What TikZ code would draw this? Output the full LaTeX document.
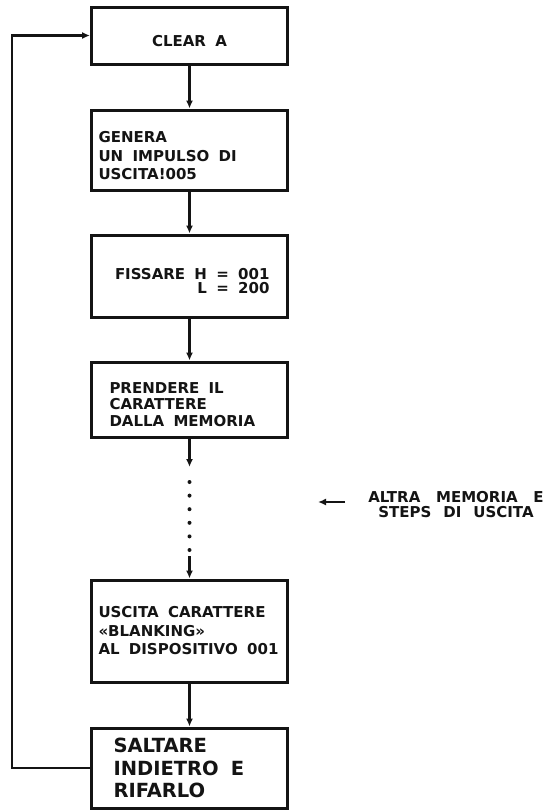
\documentclass[tikz,border=0pt]{standalone}
\usepackage{fontspec}
\setmainfont{DejaVu Sans}
\usetikzlibrary{arrows.meta,positioning}
\definecolor{ink}{HTML}{141414}
\tikzset{box/.style={draw=ink, line width=3pt, minimum width=196pt, text width=182pt, align=left, inner xsep=7pt, font=\bfseries\fontsize{15}{18.5}\selectfont, execute at begin node={\spaceskip=0.62em\relax}, text=ink}, drop/.style={execute at begin node={\rule{0pt}{#1}}}, flow/.style={-{Latex[length=8pt,width=7pt]}, line width=2.4pt, draw=ink}, dots/.style={draw=ink, line width=4pt, line cap=round, dash pattern=on 0pt off 13.6pt}, lab/.style={font=\bfseries\fontsize{15}{15}\selectfont, execute at begin node={\spaceskip=0.8em\relax}, text width=200pt, text=ink, align=center}}

\begin{document}
\begin{tikzpicture}[x=1pt,y=-1pt]
\fill[white] (0,0) rectangle (551,811);
\node[box, drop=22pt, align=center, minimum height=57pt] (clear) at (189.5,35.5) {CLEAR A};
\node[box, drop=23pt, minimum height=80pt] (genera) at (189.5,150) {GENERA\\UN IMPULSO DI\\USCITA!005};
\node[box, drop=21pt, align=right, text width=160pt, minimum height=82pt, font=\bfseries\fontsize{15}{14}\selectfont] (fissare) at (189.5,276) {FISSARE H = 001\\L = 200};
\node[box, drop=21pt, text width=160pt, minimum height=75pt, font=\bfseries\fontsize{15}{16.5}\selectfont] (prendere) at (189.5,399.5) {PRENDERE IL\\CARATTERE\\DALLA MEMORIA};
\node[box, minimum height=102pt] (uscita) at (189.5,631) {USCITA CARATTERE\\«BLANKING»\\AL DISPOSITIVO 001};
\node[box, text width=152pt, minimum height=80pt, font=\bfseries\fontsize{19.5}{22.5}\selectfont] (saltare) at (189.5,768) {SALTARE\\INDIETRO E\\RIFARLO};
\node[lab] (note) at (456,504.5) {{\spaceskip=1.05em\relax ALTRA MEMORIA E}\\STEPS DI USCITA};
\coordinate (d1) at (189.5,467);
\coordinate (d2) at (189.5,556);
\coordinate (back) at (12,768);
\coordinate (ntail) at (345,502);
\coordinate (nhead) at (318,502);
\draw[flow] (clear) -- (genera);
\draw[flow] (genera) -- (fissare);
\draw[flow] (fissare) -- (prendere);
\draw[flow] (prendere) -- (d1);
\draw[dots, shorten <=15pt, shorten >=6pt] (d1) -- (d2);
\draw[flow] (d2) -- (uscita);
\draw[flow] (uscita) -- (saltare);
\draw[flow] (saltare.west) -- (back) |- (clear.west);
\draw[flow] (ntail) -- (nhead);
\end{tikzpicture}
\end{document}
